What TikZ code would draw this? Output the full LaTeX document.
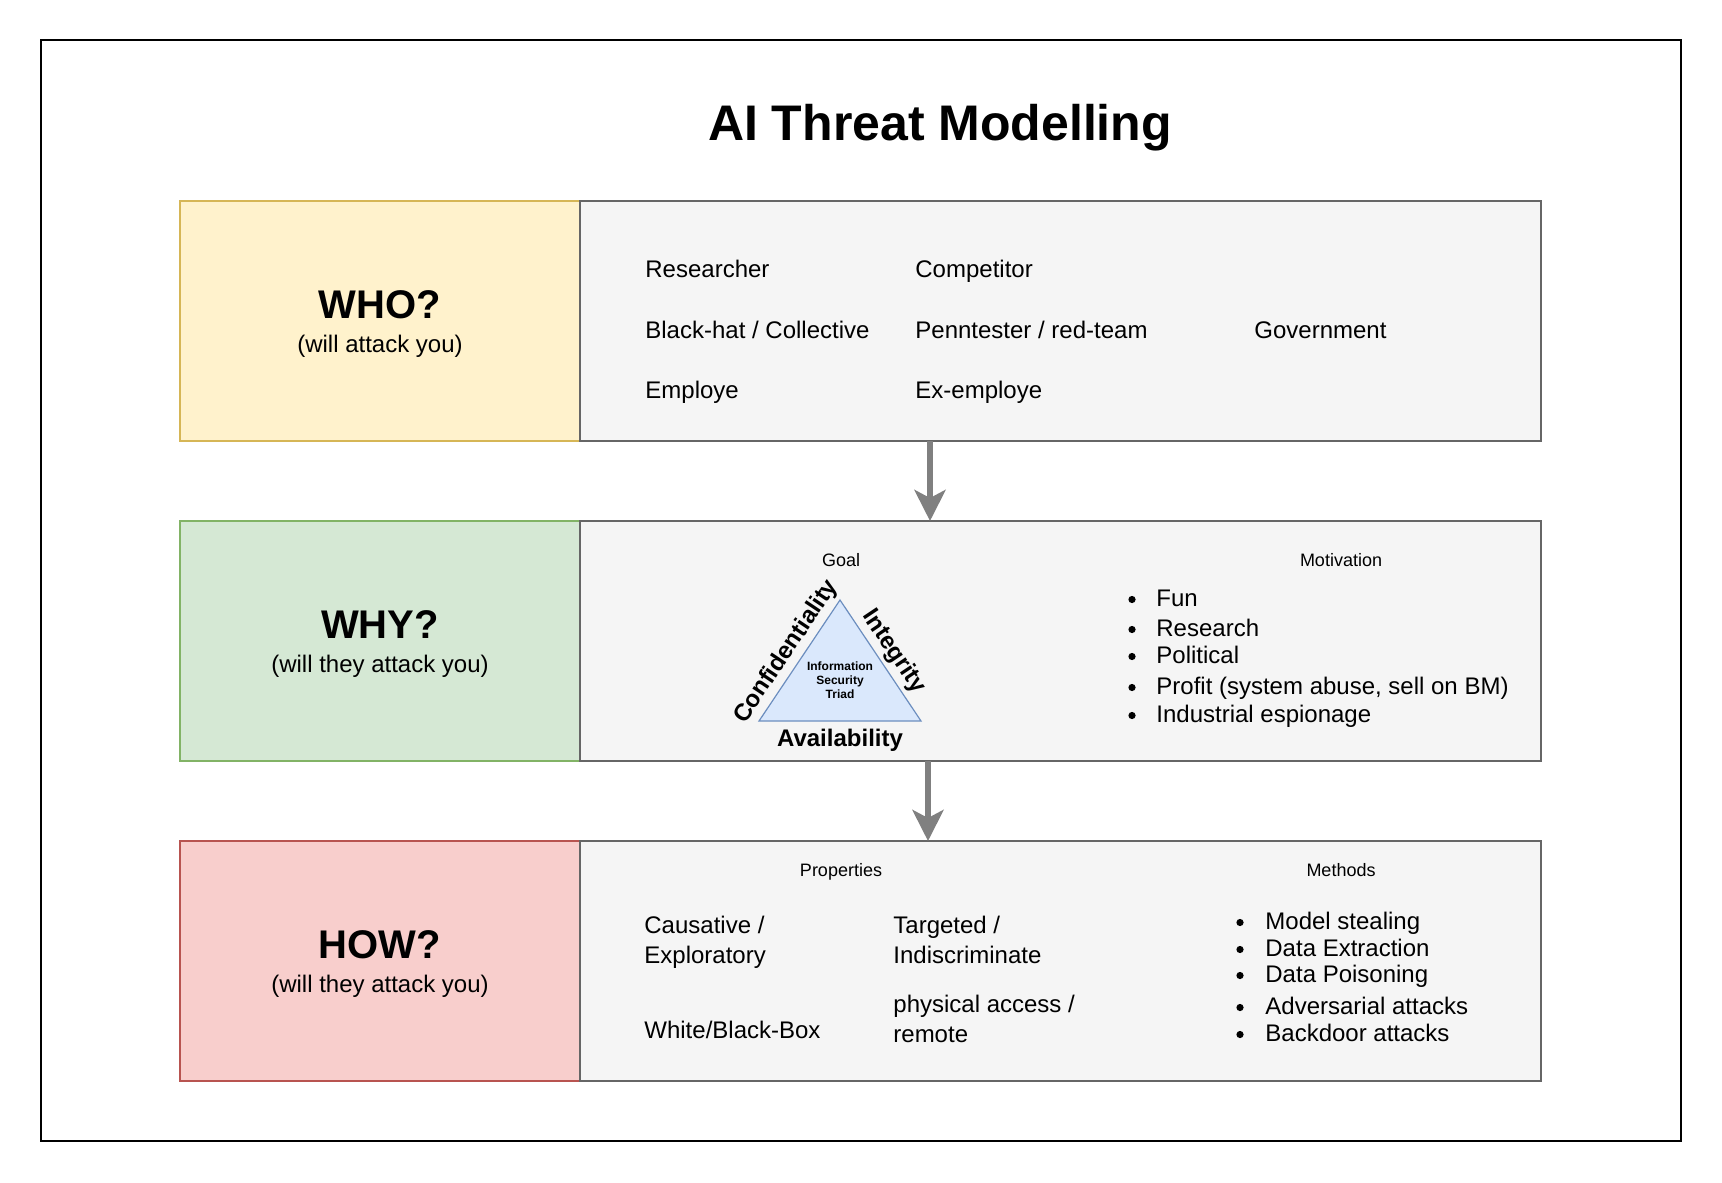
\documentclass[tikz,border=0pt]{standalone}
\usepackage{fontspec}
\setmainfont{Liberation Sans}
\usepackage{tikz}
\usetikzlibrary{positioning,arrows.meta}

\definecolor{whofill}{HTML}{FFF2CC}
\definecolor{wholine}{HTML}{D6B656}
\definecolor{whyfill}{HTML}{D5E8D4}
\definecolor{whyline}{HTML}{82B366}
\definecolor{howfill}{HTML}{F8CECC}
\definecolor{howline}{HTML}{B85450}
\definecolor{boxfill}{HTML}{F5F5F5}
\definecolor{boxline}{HTML}{666666}
\definecolor{triadfill}{HTML}{DAE8FC}
\definecolor{triadline}{HTML}{6C8EBF}
\definecolor{flowgray}{HTML}{808080}

\tikzset{
  titletext/.style={font=\fontsize{25}{30}\selectfont\bfseries, anchor=base, inner sep=0pt},
  labelbox/.style={draw, line width=1pt, minimum width=200pt, minimum height=120pt, outer sep=0pt, inner sep=0pt},
  contentbox/.style={draw=boxline, fill=boxfill, line width=1pt, minimum width=480.5pt, minimum height=120pt, outer sep=0pt, inner sep=0pt, right=0pt of #1},
  rowhead/.style={font=\fontsize{20}{24}\selectfont\bfseries, anchor=base, inner sep=0pt},
  rowsub/.style={font=\fontsize{12}{15}\selectfont, anchor=base, inner sep=0pt},
  entry/.style={font=\fontsize{12}{15}\selectfont, anchor=base west, inner sep=0pt, align=left},
  listdot/.style={circle, fill=black, inner sep=0pt, minimum size=3.6pt},
  heading/.style={font=\fontsize{9}{11}\selectfont, anchor=base, inner sep=0pt},
  triad/.style={draw=triadline, fill=triadfill, line width=0.6pt},
  triadtext/.style={font=\fontsize{6}{7}\selectfont\bfseries, align=center, inner sep=0pt},
  edgetext/.style={font=\fontsize{12}{15}\selectfont\bfseries, inner sep=2pt},
  flow/.style={draw=flowgray, line width=3pt, -{Stealth[length=15.5pt, width=15.5pt, inset=4pt]}}
}

\begin{document}
\begin{tikzpicture}[x=0.5pt, y=-0.5pt]
  \useasboundingbox (0,0) rectangle (1722,1182);
  \draw [line width=1pt] (40.5,40.5) rectangle (1681,1141);

  \node [titletext] (title) at (940,141) {AI Threat Modelling};

  % rows: coloured label on the left, grey content on the right
  \node [labelbox, draw=wholine, fill=whofill, anchor=north west] (whoL) at (180,201) {};
  \node [contentbox=whoL] (whoR) {};
  \node [labelbox, draw=whyline, fill=whyfill, below=40pt of whoL] (whyL) {};
  \node [contentbox=whyL] (whyR) {};
  \node [labelbox, draw=howline, fill=howfill, below=40pt of whyL] (howL) {};
  \node [contentbox=howL] (howR) {};

  \node [rowhead] (whoQ) at ([yshift=1.5pt]whoL.center) {WHO?};
  \node [rowsub]  (whoS) at ([yshift=-15.5pt]whoL.center) {(will attack you)};
  \node [rowhead] (whyQ) at ([yshift=1.5pt]whyL.center) {WHY?};
  \node [rowsub]  (whyS) at ([yshift=-15.5pt]whyL.center) {(will they attack you)};
  \node [rowhead] (howQ) at ([yshift=1.5pt]howL.center) {HOW?};
  \node [rowsub]  (howS) at ([yshift=-15.5pt]howL.center) {(will they attack you)};

  % who
  \node [entry] (researcher) at (645,278) {Researcher};
  \node [entry] (competitor) at (915,278) {Competitor};
  \node [entry] (blackhat)   at (645,338) {Black-hat / Collective};
  \node [entry] (pentester)  at (915,338) {Penntester / red-team};
  \node [entry] (government) at (1254,338) {Government};
  \node [entry] (employe)    at (645,398) {Employe};
  \node [entry] (exemploye)  at (915,398) {Ex-employe};

  % why
  \node [heading] (goal) at (841,566) {Goal};
  \node [heading] (motivation) at (1341,566) {Motivation};
  \coordinate (apex) at (840,600);
  \coordinate (cornerL) at (759,721);
  \coordinate (cornerR) at (921,721);
  \draw [triad] (cornerL) -- node [edgetext, sloped, above] (conf) {Confidentiality} (apex)
    -- node [edgetext, sloped, above] (integ) {Integrity} (cornerR)
    -- node [edgetext, below, yshift=-2pt] (avail) {Availability} cycle;
  \node [triadtext] (triadname) at (840,680) {Information\\Security\\Triad};
  \foreach \y/\t [count=\i] in {606/Fun, 636/Research, 663/Political, 694/{Profit (system abuse, sell on BM)}, 722/Industrial espionage}{
    \node [listdot] (motdot\i) at (1132,\y-6.5) {};
    \node [entry] (motive\i) at (1156,\y) {\t};
  }

  % how
  \node [heading] (properties) at (841,876) {Properties};
  \node [heading] (methods) at (1341,876) {Methods};
  \node [entry] (causative)  at (644,963) {Causative /\\Exploratory};
  \node [entry] (targeted)   at (893,963) {Targeted /\\Indiscriminate};
  \node [entry] (whitebox)   at (644,1038) {White/Black-Box};
  \node [entry] (physical)   at (893,1042) {physical access /\\remote};
  \foreach \y/\t [count=\i] in {929/Model stealing, 956/Data Extraction, 982/Data Poisoning, 1014/Adversarial attacks, 1041/Backdoor attacks}{
    \node [listdot] (metdot\i) at (1240,\y-6.5) {};
    \node [entry] (method\i) at (1265,\y) {\t};
  }

  % flow between rows
  \coordinate (arrowA) at (930,0);
  \coordinate (arrowB) at (928,0);
  \draw [flow] (whoR.south -| arrowA) -- (whyR.north -| arrowA);
  \draw [flow] (whyR.south -| arrowB) -- (howR.north -| arrowB);
\end{tikzpicture}
\end{document}
